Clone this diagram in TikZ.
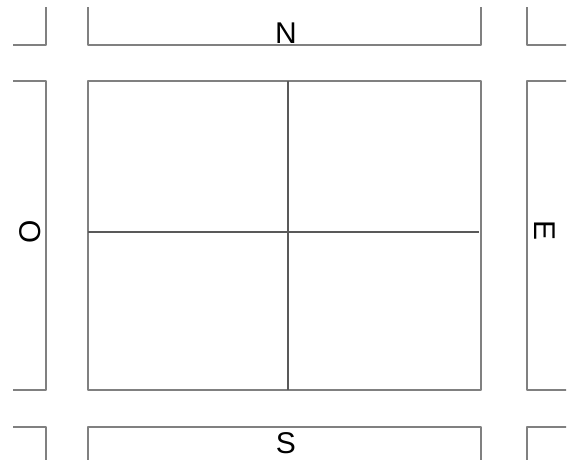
\documentclass[tikz,border=0pt]{standalone}
\usepackage{fontspec}
\setmainfont{Liberation Sans}
\begin{document}
\begin{tikzpicture}[x=1pt,y=-1pt,
  block/.style={draw=black!50,line width=1.6pt,line join=round},
  inner/.style={draw=black!65,line width=1.1pt},
  lbl/.style={font=\fontsize{30}{30}\selectfont,inner sep=0pt,text=black}]
\useasboundingbox (0,0) rectangle (573,460);
\begin{scope}
\clip (13,8) rectangle (566,461);
% top row
\draw[block] (0,0) rectangle (46,45);
\draw[block] (88,0) rectangle (481,45);
\draw[block] (527,0) rectangle (600,45);
% middle row
\draw[block] (0,81) rectangle (46,390);
\draw[block] (88,81) rectangle (481,390);
\draw[block] (527,81) rectangle (600,390);
% bottom row
\draw[block] (0,427) rectangle (46,480);
\draw[block] (88,427) rectangle (481,480);
\draw[block] (527,427) rectangle (600,480);
\end{scope}
% cross inside the main block
\coordinate (vt) at (288,81);
\coordinate (vb) at (288,390);
\coordinate (hl) at (88,232);
\coordinate (hr) at (479,232);
\draw[inner] (vt) -- (vb);
\draw[inner] (hl) -- (hr);
% labels
\node[lbl,anchor=base] (N) at (286,44) {N};
\node[lbl,anchor=base] (S) at (286,453) {S};
\node[lbl,rotate=90] (O) at (30,232) {O};
\node[lbl,rotate=-90] (E) at (545,231) {E};
\end{tikzpicture}
\end{document}
